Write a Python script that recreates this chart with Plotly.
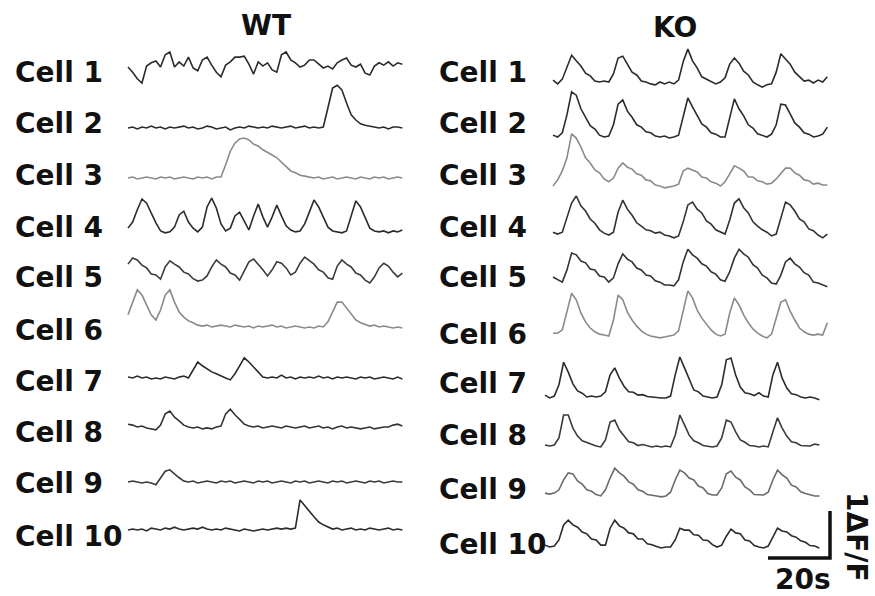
import plotly.graph_objects as go

# ---------------- data (ΔF/F, sampled every 1.5 s) ----------------
DT = 1.5
CELL_LABELS = ["Cell 1", "Cell 2", "Cell 3", "Cell 4", "Cell 5",
               "Cell 6", "Cell 7", "Cell 8", "Cell 9", "Cell 10"]
GROUPS = ["WT", "KO"]

wt_cell1 = [0.34,0.23,0.09,0.00,0.36,0.43,0.47,0.34,0.60,0.66,
            0.34,0.45,0.36,0.55,0.32,0.26,0.49,0.55,0.38,0.23,
            0.13,0.38,0.45,0.55,0.55,0.57,0.40,0.19,0.45,0.36,
            0.43,0.28,0.23,0.60,0.66,0.49,0.43,0.34,0.38,0.49,
            0.49,0.40,0.32,0.36,0.30,0.43,0.49,0.53,0.38,0.34,
            0.40,0.21,0.17,0.36,0.43,0.38,0.45,0.36,0.43,0.40]
wt_cell2 = [0.00,0.02,-0.02,0.02,0.00,0.04,0.00,0.02,-0.02,0.02,
            0.00,0.02,0.04,0.00,0.02,-0.02,0.00,0.04,0.02,-0.02,
            0.00,0.02,-0.04,0.00,0.02,0.00,0.04,0.02,0.00,0.02,
            0.00,0.04,0.02,0.00,0.02,0.04,0.00,0.02,0.04,0.00,
            0.02,0.00,0.02,0.43,0.85,0.91,0.81,0.53,0.28,0.17,
            0.09,0.06,0.04,0.02,0.00,0.02,-0.02,0.02,0.02,0.00]
wt_cell3 = [0.00,0.02,-0.02,0.00,0.02,0.00,-0.02,0.02,0.00,0.02,
            -0.02,0.00,0.02,0.00,-0.02,0.02,0.00,0.02,-0.02,0.02,
            0.02,0.28,0.57,0.74,0.83,0.85,0.81,0.72,0.68,0.60,
            0.55,0.49,0.43,0.34,0.23,0.15,0.11,0.06,0.04,0.02,
            0.00,0.02,-0.02,0.00,0.02,-0.02,0.00,0.02,0.00,-0.02,
            0.02,0.00,-0.02,0.02,0.00,0.02,-0.02,0.00,0.02,0.00]
wt_cell4 = [0.04,0.17,0.43,0.66,0.57,0.36,0.15,-0.02,-0.06,-0.04,
            0.06,0.32,0.40,0.17,0.04,-0.04,0.06,0.49,0.68,0.47,
            0.13,-0.02,0.04,0.30,0.38,0.19,0.00,0.30,0.55,0.28,
            0.06,0.28,0.53,0.30,0.09,0.00,-0.04,-0.02,0.13,0.38,
            0.64,0.49,0.26,0.06,-0.02,-0.04,-0.06,-0.02,0.30,0.62,
            0.49,0.28,0.04,-0.02,-0.04,-0.02,-0.06,-0.02,-0.04,0.00]
wt_cell5 = [0.38,0.51,0.47,0.36,0.30,0.17,0.15,0.06,0.32,0.45,
            0.38,0.32,0.21,0.17,0.07,0.02,0.04,0.13,0.32,0.47,
            0.38,0.32,0.19,0.15,0.04,0.23,0.43,0.49,0.38,0.26,
            0.13,0.26,0.43,0.40,0.30,0.15,0.21,0.40,0.53,0.45,
            0.38,0.26,0.21,0.09,0.06,0.34,0.47,0.38,0.32,0.19,
            0.15,0.04,-0.02,0.11,0.30,0.40,0.34,0.21,0.11,0.19]
wt_cell6 = [0.26,0.53,0.79,0.68,0.45,0.26,0.15,0.36,0.68,0.79,
            0.53,0.32,0.21,0.13,0.09,0.04,0.02,0.04,0.00,0.02,
            0.04,0.02,0.00,0.04,0.02,0.00,0.02,-0.02,0.02,0.00,
            0.02,0.04,0.00,0.02,-0.02,0.00,0.02,0.00,-0.02,0.00,
            -0.02,0.02,0.00,0.11,0.34,0.53,0.53,0.40,0.26,0.15,
            0.09,0.06,0.02,0.04,0.00,0.02,0.00,-0.02,0.00,-0.02]
wt_cell7 = [0.02,0.00,0.04,0.00,0.02,-0.02,0.00,-0.02,0.02,0.00,
            -0.02,0.02,0.04,0.00,0.17,0.34,0.26,0.19,0.13,0.09,
            0.04,0.00,-0.04,0.09,0.26,0.43,0.34,0.23,0.13,0.02,
            0.00,0.02,0.00,0.06,0.00,0.02,-0.02,0.02,0.00,0.02,
            0.00,0.04,0.00,0.02,-0.02,0.02,0.00,0.02,0.00,-0.02,
            0.02,0.00,0.02,-0.02,0.00,0.02,0.00,-0.02,0.02,-0.02]
wt_cell8 = [0.06,0.04,0.00,0.02,-0.02,-0.04,-0.06,0.04,0.28,0.34,
            0.21,0.13,0.04,0.00,-0.02,0.00,-0.04,-0.02,-0.04,0.00,
            0.02,0.28,0.38,0.26,0.15,0.06,0.02,0.00,0.02,-0.02,
            0.00,0.02,0.00,-0.02,0.02,0.00,-0.02,0.00,0.02,-0.02,
            0.00,0.02,-0.02,0.00,-0.04,0.00,0.02,-0.02,0.00,-0.02,
            -0.04,-0.02,0.00,-0.04,-0.02,0.00,0.00,0.04,0.06,0.02]
wt_cell9 = [0.00,0.02,0.00,-0.02,0.00,-0.02,-0.06,0.09,0.23,0.26,
            0.17,0.09,0.02,0.00,0.02,-0.02,0.00,0.02,0.00,-0.02,
            0.02,0.00,0.02,-0.02,0.00,0.02,0.00,-0.02,0.02,0.00,
            0.02,-0.02,0.00,0.02,0.00,-0.02,0.02,0.00,0.02,-0.02,
            0.00,0.02,0.00,-0.02,0.02,0.00,0.02,-0.02,0.00,0.02,
            0.00,-0.02,0.02,0.00,0.02,-0.02,0.00,0.02,0.00,0.00]
wt_cell10 = [0.00,0.02,0.00,0.02,-0.02,0.04,0.02,0.00,0.04,0.02,
             0.06,0.02,0.00,0.02,0.04,0.02,0.06,0.02,0.00,0.02,
             0.00,0.04,0.02,0.00,-0.02,0.02,0.00,-0.02,0.00,0.02,
             0.00,0.02,0.04,0.02,0.04,0.02,0.04,0.64,0.53,0.40,
             0.28,0.17,0.11,0.06,0.02,0.04,0.00,0.02,0.04,0.00,
             0.02,0.00,0.04,0.02,0.00,0.02,0.04,0.00,0.02,0.00]

ko_cell1 = [0.04,-0.04,0.06,0.30,0.57,0.45,0.34,0.19,0.13,0.02,
            0.00,0.02,0.00,0.17,0.51,0.55,0.38,0.21,0.15,0.02,
            0.00,-0.04,-0.06,0.00,-0.04,0.00,-0.04,0.04,0.43,0.70,
            0.45,0.30,0.11,0.06,0.02,-0.04,0.00,0.09,0.38,0.51,
            0.40,0.23,0.15,0.00,-0.06,-0.11,-0.06,-0.04,0.21,0.60,
            0.49,0.38,0.21,0.11,0.02,0.04,-0.02,0.04,0.00,0.11]
ko_cell2 = [0.04,0.00,0.09,0.47,0.96,0.89,0.60,0.42,0.24,0.17,
            0.04,0.00,0.02,0.26,0.70,0.79,0.55,0.42,0.26,0.21,
            0.11,0.09,0.02,0.00,0.02,-0.02,0.00,0.04,0.47,0.83,
            0.64,0.47,0.28,0.21,0.09,0.06,0.00,0.00,0.40,0.81,
            0.60,0.45,0.26,0.19,0.07,0.04,0.00,0.06,0.26,0.70,
            0.68,0.49,0.30,0.21,0.09,0.06,0.00,0.02,0.06,0.21]
ko_cell3 = [0.00,0.13,0.32,0.60,1.11,1.02,0.83,0.60,0.49,0.34,
            0.28,0.15,0.09,0.17,0.38,0.49,0.40,0.36,0.26,0.23,
            0.13,0.11,0.02,0.00,-0.04,-0.02,0.00,0.04,0.32,0.38,
            0.34,0.30,0.19,0.17,0.09,0.06,0.00,0.09,0.26,0.43,
            0.38,0.32,0.19,0.19,0.11,0.09,0.04,0.06,0.15,0.26,
            0.38,0.38,0.28,0.23,0.13,0.11,0.04,0.06,0.02,0.02]
ko_cell4 = [0.06,0.02,0.06,0.36,0.68,0.83,0.62,0.51,0.34,0.25,
            0.11,0.04,0.00,0.06,0.49,0.74,0.55,0.42,0.26,0.19,
            0.11,0.09,0.04,0.06,0.00,-0.02,-0.06,-0.02,0.28,0.64,
            0.70,0.55,0.47,0.30,0.23,0.11,0.06,0.02,0.32,0.68,
            0.77,0.58,0.47,0.28,0.19,0.11,0.06,-0.02,0.02,0.36,
            0.70,0.64,0.51,0.34,0.28,0.13,0.09,0.00,-0.06,0.02]
ko_cell5 = [0.15,0.09,0.04,0.30,0.66,0.62,0.49,0.45,0.32,0.30,
            0.17,0.15,0.04,0.13,0.43,0.64,0.53,0.47,0.34,0.30,
            0.19,0.17,0.07,0.04,-0.02,-0.02,-0.04,0.09,0.47,0.74,
            0.62,0.55,0.43,0.38,0.26,0.21,0.09,0.06,0.26,0.55,
            0.74,0.64,0.57,0.41,0.34,0.19,0.13,0.02,0.00,0.19,
            0.47,0.55,0.43,0.36,0.24,0.19,0.04,0.02,-0.02,-0.06]
ko_cell6 = [0.06,0.06,0.13,0.55,0.91,0.77,0.49,0.30,0.17,0.09,
            0.04,0.02,0.00,0.34,0.87,0.77,0.51,0.34,0.21,0.11,
            0.04,0.00,-0.02,-0.04,-0.02,0.00,0.02,0.11,0.55,0.96,
            0.81,0.55,0.38,0.26,0.13,0.04,0.00,0.04,0.49,0.81,
            0.66,0.45,0.28,0.15,0.06,0.00,-0.04,0.04,0.38,0.72,
            0.77,0.53,0.34,0.17,0.09,0.04,0.02,0.04,0.02,0.28]
ko_cell7 = [0.04,-0.02,0.02,0.26,0.74,0.53,0.28,0.13,0.08,0.00,
            0.02,0.00,0.02,0.11,0.47,0.62,0.40,0.23,0.11,0.10,
            0.04,0.05,0.01,0.00,-0.02,-0.02,-0.02,0.02,0.47,0.85,
            0.62,0.38,0.15,0.11,0.02,0.00,-0.02,0.00,0.26,0.79,
            0.83,0.47,0.21,0.09,0.07,0.03,0.09,0.02,0.00,0.47,
            0.74,0.40,0.19,0.07,0.05,0.00,-0.02,0.00,-0.02,-0.06]
ko_cell8 = [0.02,0.00,0.02,0.17,0.66,0.66,0.38,0.21,0.11,0.07,
            0.03,0.00,-0.02,0.13,0.51,0.55,0.34,0.21,0.09,0.07,
            0.01,0.03,0.00,-0.02,0.00,-0.02,0.00,-0.02,0.23,0.66,
            0.45,0.23,0.11,0.07,0.01,0.00,-0.02,0.00,0.17,0.55,
            0.51,0.30,0.13,0.08,0.01,0.00,-0.02,0.00,-0.02,0.30,
            0.60,0.38,0.21,0.09,0.07,0.01,0.00,0.00,0.04,0.02]
ko_cell9 = [0.04,0.02,0.04,0.11,0.32,0.47,0.45,0.30,0.23,0.11,
            0.08,0.01,-0.02,0.11,0.36,0.57,0.47,0.40,0.28,0.23,
            0.11,0.08,0.01,0.00,-0.02,-0.04,-0.02,0.06,0.32,0.53,
            0.47,0.36,0.32,0.19,0.15,0.03,0.00,0.00,0.15,0.45,
            0.51,0.38,0.32,0.17,0.11,0.01,0.00,0.00,0.06,0.32,
            0.53,0.43,0.36,0.21,0.17,0.07,0.03,0.00,-0.02,-0.02]
ko_cell10 = [0.04,0.00,0.02,0.15,0.47,0.57,0.47,0.42,0.32,0.28,
             0.17,0.15,0.04,0.04,0.40,0.57,0.45,0.40,0.30,0.28,
             0.17,0.17,0.07,0.05,0.01,-0.02,0.00,0.00,0.15,0.40,
             0.36,0.36,0.26,0.25,0.15,0.14,0.05,0.00,0.04,0.23,
             0.38,0.30,0.28,0.15,0.13,0.03,0.00,-0.02,0.02,0.21,
             0.40,0.34,0.32,0.24,0.21,0.13,0.10,0.03,0.02,-0.02]

WT_TRACES = [wt_cell1, wt_cell2, wt_cell3, wt_cell4, wt_cell5,
             wt_cell6, wt_cell7, wt_cell8, wt_cell9, wt_cell10]
KO_TRACES = [ko_cell1, ko_cell2, ko_cell3, ko_cell4, ko_cell5,
             ko_cell6, ko_cell7, ko_cell8, ko_cell9, ko_cell10]

SCALE_T = 20      # s
SCALE_DFF = 1     # ΔF/F

# ---------------- layout (pixels of the 875x596 canvas) ----------------
W, H = 875, 596
PX_PER_S = 3.1
PX_PER_DFF = 47.0

WT_BASE_PX = [83, 128, 178, 230, 282, 327, 378, 427, 482, 530]
KO_BASE_PX = [82, 137, 186, 235, 284, 336, 397, 446, 495, 547]
WT_START_PX = [128] * 10
KO_START_PX = [553] * 6 + [545] * 4
WT_LABEL_Y = [72, 123, 175, 227, 278, 330, 381, 432, 483, 536]
KO_LABEL_Y = [72, 123, 175, 227, 278, 334, 383, 435, 489, 544]
WT_LABEL_X = 13
KO_LABEL_X = 437

WT_COLORS = ["#2b2b2b", "#2b2b2b", "#8a8a8a", "#2b2b2b", "#3c3c3c",
             "#8a8a8a", "#2b2b2b", "#333333", "#3a3a3a", "#2b2b2b"]
KO_COLORS = ["#2b2b2b", "#2b2b2b", "#8a8a8a", "#333333", "#333333",
             "#8a8a8a", "#2b2b2b", "#3a3a3a", "#6a6a6a", "#2b2b2b"]

FONT = "DejaVu Sans"
LABEL_SIZE = 28


def xs(px):
    return px / PX_PER_S


def ys(py):
    return (H - py) / PX_PER_DFF


fig = go.Figure()

for traces, bases, starts, colors in [
    (WT_TRACES, WT_BASE_PX, WT_START_PX, WT_COLORS),
    (KO_TRACES, KO_BASE_PX, KO_START_PX, KO_COLORS),
]:
    for vals, b, s, c in zip(traces, bases, starts, colors):
        t = [xs(s) + i * DT for i in range(len(vals))]
        y = [ys(b) + v for v in vals]
        fig.add_trace(go.Scatter(x=t, y=y, mode="lines",
                                 line=dict(color=c, width=1.6),
                                 hoverinfo="skip", showlegend=False))

# scale bar (20 s x 1 ΔF/F), corner at pixel (830, 558)
cx, cy = xs(830), ys(558)
fig.add_trace(go.Scatter(
    x=[cx - SCALE_T, cx, cx], y=[cy, cy, cy + SCALE_DFF], mode="lines",
    line=dict(color="#111111", width=3.5), hoverinfo="skip", showlegend=False))

annotations = []


def label(text, px, py, xanchor="left", size=LABEL_SIZE, angle=0):
    annotations.append(dict(
        text=f"<b>{text}</b>", x=px / W, y=1 - py / H, xref="paper", yref="paper",
        xanchor=xanchor, yanchor="middle", showarrow=False, textangle=angle,
        font=dict(family=FONT, size=size, color="#111111")))


for txt, py in zip(CELL_LABELS, WT_LABEL_Y):
    label(txt, WT_LABEL_X, py)
for txt, py in zip(CELL_LABELS, KO_LABEL_Y):
    label(txt, KO_LABEL_X, py)

label(GROUPS[0], 266, 26, xanchor="center")
label(GROUPS[1], 675, 27, xanchor="center")
label(f"{SCALE_T}s", 803, 579, xanchor="center")
label(f"{SCALE_DFF}ΔF/F", 857, 537, xanchor="center", angle=90)

fig.update_layout(
    width=W, height=H,
    margin=dict(l=0, r=0, t=0, b=0),
    paper_bgcolor="white", plot_bgcolor="white",
    xaxis=dict(range=[0, xs(W)], visible=False, fixedrange=True),
    yaxis=dict(range=[0, ys(0)], visible=False, fixedrange=True),
    annotations=annotations,
    showlegend=False,
)

fig.write_html("out.html")
